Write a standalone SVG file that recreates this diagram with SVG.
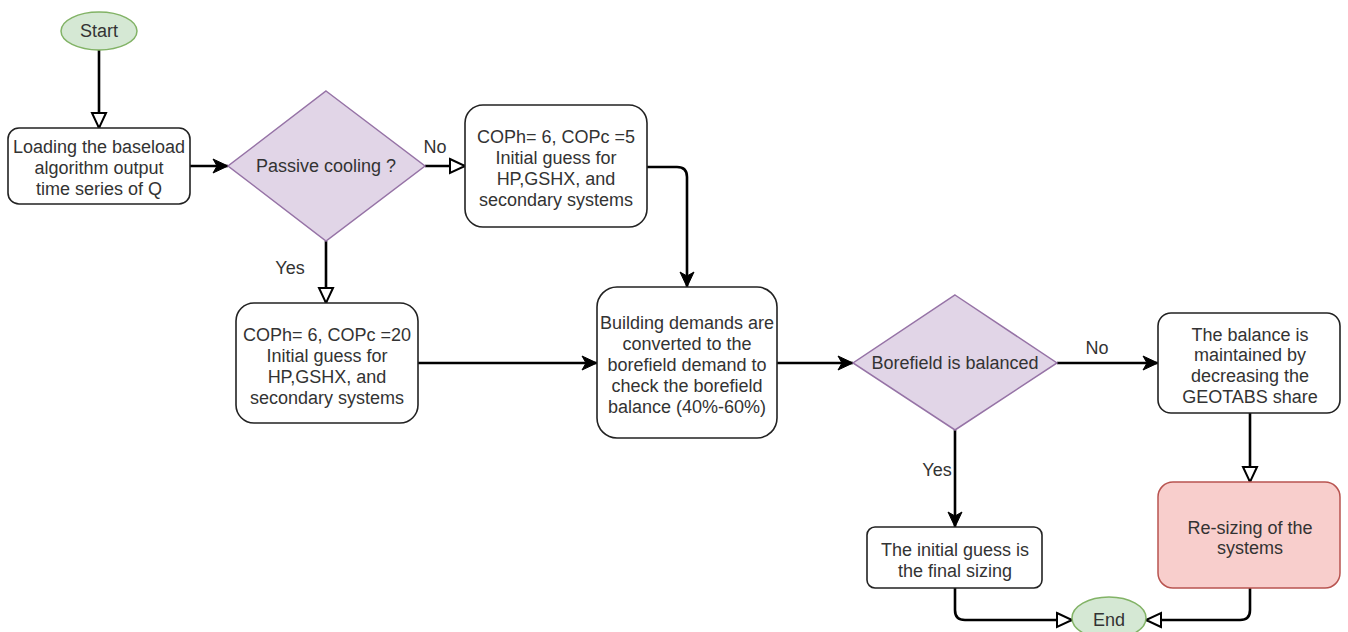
<svg xmlns="http://www.w3.org/2000/svg" width="1348" height="632" viewBox="0 0 1348 632">
<defs>
<marker id="filled" markerUnits="userSpaceOnUse" markerWidth="16" markerHeight="14" refX="15" refY="7" orient="auto" overflow="visible">
<path d="M0,0 L15,7 L0,14 L4,7 Z" fill="#000" stroke="#000" stroke-width="1"/>
</marker>
<marker id="open" markerUnits="userSpaceOnUse" markerWidth="18" markerHeight="16" refX="16" refY="8" orient="auto" overflow="visible">
<path d="M1,1 L16,8 L1,15 Z" fill="#fff" stroke="#000" stroke-width="2"/>
</marker>
</defs>
<style>
.box{fill:#fff;stroke:#222;stroke-width:1.6}
.term{fill:#d5e8d4;stroke:#82b366;stroke-width:1.5}
.dec{fill:#e1d5e7;stroke:#9673a6;stroke-width:1.5}
.red{fill:#f8cecc;stroke:#b85450;stroke-width:1.5}
text{font-family:"Liberation Sans",Arial,sans-serif;font-size:18px;fill:#333;text-anchor:middle}
.c{fill:none;stroke:#000;stroke-width:2.6}
</style>
<rect width="1348" height="632" fill="#fff"/>
<g id="connectors">
<path class="c" d="M99,50 V128" marker-end="url(#open)"/>
<path class="c" d="M190,166 H228" marker-end="url(#filled)"/>
<path class="c" d="M425,166 H465" marker-end="url(#open)"/>
<path class="c" d="M326,241 V303" marker-end="url(#open)"/>
<path class="c" d="M647,167 H677 Q687,167 687,177 V287" marker-end="url(#filled)"/>
<path class="c" d="M418,363 H597" marker-end="url(#filled)"/>
<path class="c" d="M777,363 H853" marker-end="url(#filled)"/>
<path class="c" d="M1057,363 H1158" marker-end="url(#filled)"/>
<path class="c" d="M955,430 V527" marker-end="url(#filled)"/>
<path class="c" d="M1250,413 V482" marker-end="url(#open)"/>
<path class="c" d="M955,588 V610 Q955,620 965,620 H1072" marker-end="url(#open)"/>
<path class="c" d="M1250,588 V610 Q1250,620 1240,620 H1146" marker-end="url(#open)"/>
<text x="435" y="153">No</text>
<text x="290" y="274">Yes</text>
<text x="1097" y="354">No</text>
<text x="937" y="476">Yes</text>
</g>
<g id="start">
<ellipse class="term" cx="99" cy="31" rx="38" ry="19"/>
<text x="99" y="37">Start</text>
</g>
<g id="load">
<rect class="box" x="8" y="128" width="182" height="76" rx="11"/>
<text x="99" y="153">Loading the baseload</text>
<text x="99" y="174">algorithm output</text>
<text x="99" y="195">time series of Q</text>
</g>
<g id="passive">
<polygon class="dec" points="326,91 425,166 326,241 228,166"/>
<text x="326" y="172">Passive cooling ?</text>
</g>
<g id="cop5">
<rect class="box" x="465" y="105" width="182" height="122" rx="18"/>
<text x="556" y="143">COPh= 6, COPc =5</text>
<text x="556" y="164">Initial guess for</text>
<text x="556" y="185">HP,GSHX, and</text>
<text x="556" y="206">secondary systems</text>
</g>
<g id="cop20">
<rect class="box" x="236" y="303" width="182" height="120" rx="18"/>
<text x="327" y="341">COPh= 6, COPc =20</text>
<text x="327" y="362">Initial guess for</text>
<text x="327" y="383">HP,GSHX, and</text>
<text x="327" y="404">secondary systems</text>
</g>
<g id="demands">
<rect class="box" x="597" y="287" width="180" height="151" rx="20"/>
<text x="687" y="329">Building demands are</text>
<text x="687" y="350">converted to the</text>
<text x="687" y="371">borefield demand to</text>
<text x="687" y="392">check the borefield</text>
<text x="687" y="413">balance (40%-60%)</text>
</g>
<g id="balanced">
<polygon class="dec" points="955,295 1057,363 955,430 853,363"/>
<text x="955" y="369">Borefield is balanced</text>
</g>
<g id="maintain">
<rect class="box" x="1158" y="313" width="182" height="100" rx="13"/>
<text x="1250" y="341">The balance is</text>
<text x="1250" y="361">maintained by</text>
<text x="1250" y="382">decreasing the</text>
<text x="1250" y="403">GEOTABS share</text>
</g>
<g id="resize">
<rect class="red" x="1158" y="482" width="182" height="106" rx="15"/>
<text x="1250" y="534">Re-sizing of the</text>
<text x="1250" y="554">systems</text>
</g>
<g id="final">
<rect class="box" x="867" y="527" width="175" height="61" rx="8"/>
<text x="955" y="556">The initial guess is</text>
<text x="955" y="577">the final sizing</text>
</g>
<g id="end">
<ellipse class="term" cx="1109" cy="618" rx="37" ry="21"/>
<text x="1109" y="626">End</text>
</g>
</svg>
